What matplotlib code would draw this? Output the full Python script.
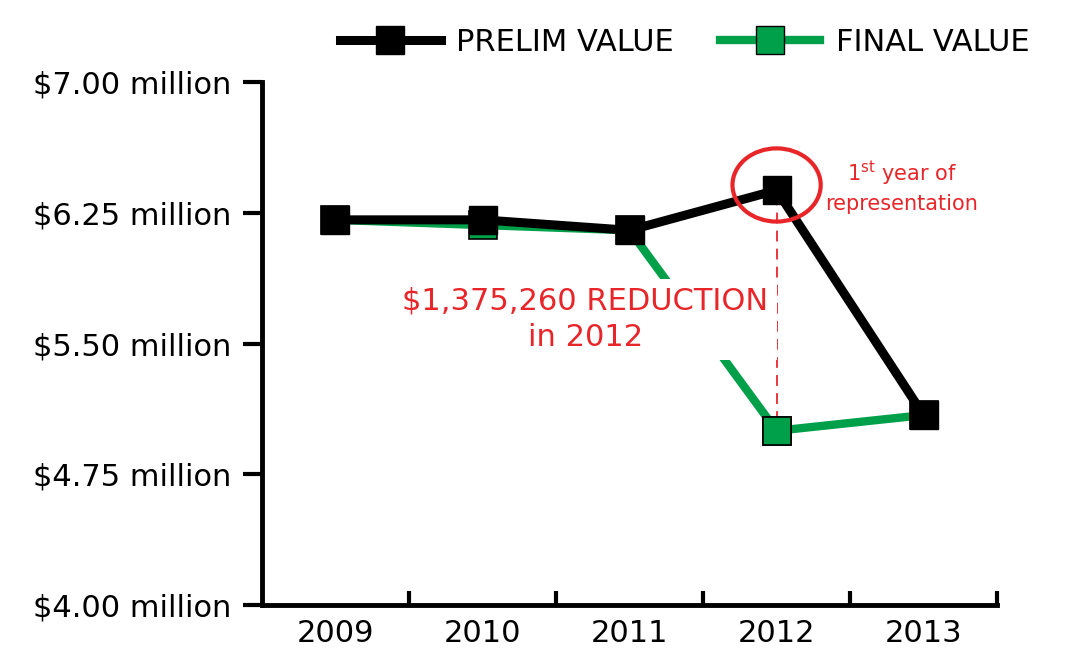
import matplotlib
matplotlib.use("Agg")
import matplotlib.pyplot as plt
from matplotlib.patches import Ellipse
from matplotlib.lines import Line2D

years = [2009, 2010, 2011, 2012, 2013]
prelim = [6.21, 6.21, 6.15, 6.38, 5.09]
final = [6.21, 6.18, 6.15, 5.00, 5.09]
ytick_vals = [4.00, 4.75, 5.50, 6.25, 7.00]
ytick_labels = ["$4.00 million", "$4.75 million", "$5.50 million", "$6.25 million", "$7.00 million"]

GREEN = "#00a04a"
RED = "#e8262a"
FS = 22
fig = plt.figure(figsize=(10.78, 6.57), dpi=100)
ax = fig.add_axes([0.243, 0.079, 0.682, 0.796])
ax.plot(years, final, color=GREEN, lw=6, marker="s", ms=20, mfc=GREEN, mec="black", mew=1.2, zorder=2)
ax.plot(years, prelim, color="black", lw=6.5, marker="s", ms=20, mfc="black", zorder=3)
ax.plot([2012], [final[3]], ls="none", marker="s", ms=20, mfc=GREEN, mec="black", mew=1.2, zorder=5)

ax.set_xlim(2008.5, 2013.5)
ax.set_ylim(4.0, 7.0)
ax.set_yticks(ytick_vals)
ax.set_yticklabels(ytick_labels, fontsize=FS)
ax.set_xticks(years)
ax.set_xticklabels([str(y) for y in years], fontsize=FS)
ax.set_xticks([2009.5, 2010.5, 2011.5, 2012.5, 2013.5], minor=True)
ax.tick_params(axis="x", which="major", length=0, pad=10)
ax.tick_params(axis="x", which="minor", length=10, width=3, direction="in")
ax.tick_params(axis="y", length=14, width=3, direction="out", pad=8)
for s in ["top", "right"]:
    ax.spines[s].set_visible(False)
for s in ["left", "bottom"]:
    ax.spines[s].set_linewidth(3.5)

ax.plot([2012, 2012], [final[3] + 0.05, prelim[3] - 0.05], color=RED, ls=(0, (6, 4)), lw=1.3, zorder=1)
ax.add_patch(Ellipse((2012, prelim[3] + 0.03), 0.6, 0.42, fill=False, ec=RED, lw=3, zorder=6))
ax.text(2010.7, 5.64, "$1,375,260 REDUCTION\nin 2012", color=RED, fontsize=FS, ha="center", va="center",
        linespacing=1.3, bbox=dict(fc="white", ec="none", pad=6), zorder=4)
ax.text(2012.85, 6.40, "1$^{\\mathrm{st}}$ year of\nrepresentation", color=RED, fontsize=15, ha="center", va="center",
        linespacing=1.4)

handles = [Line2D([], [], color="black", lw=6.5, marker="s", ms=20, mfc="black"),
           Line2D([], [], color=GREEN, lw=6, marker="s", ms=20, mfc=GREEN, mec="black")]
fig.legend(handles, ["PRELIM VALUE", "FINAL VALUE"], loc="upper center", bbox_to_anchor=(0.635, 1.0),
           ncol=2, frameon=False, fontsize=FS, handlelength=3.3, columnspacing=1.5, handletextpad=0.5)
fig.savefig("out.png", dpi=100)
